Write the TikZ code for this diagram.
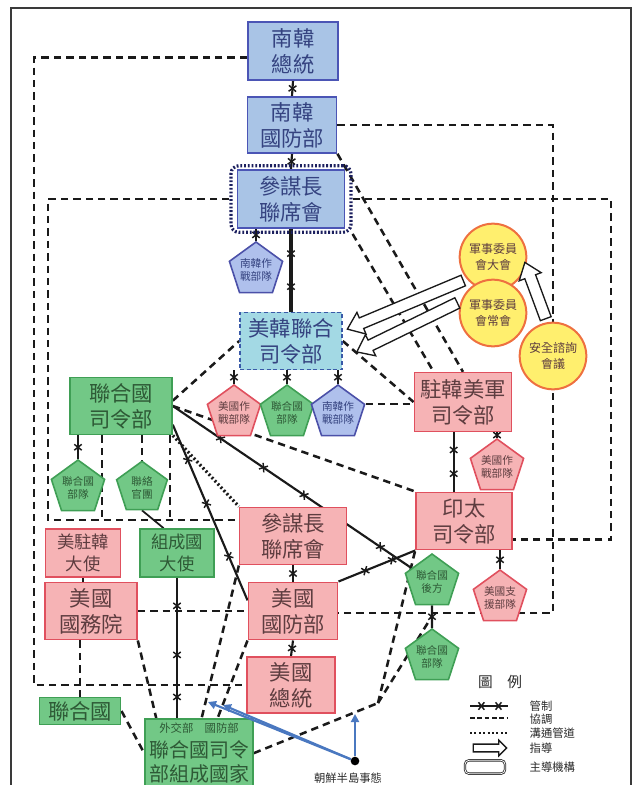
\documentclass[tikz,border=0pt]{standalone}
\usepackage{fontspec}
\setmainfont{Noto Sans CJK TC}
\usetikzlibrary{shapes.geometric,shapes.arrows,decorations.markings,calc,arrows.meta}
\pgfdeclarelayer{bg}
\pgfsetlayers{bg,main}
\definecolor{blueF}{HTML}{A9C4E6}
\definecolor{blueD}{HTML}{4B55B5}
\definecolor{cyanF}{HTML}{A3D9E4}
\definecolor{cyanD}{HTML}{3A5AA8}
\definecolor{greenF}{HTML}{72C886}
\definecolor{greenD}{HTML}{3F9F55}
\definecolor{pinkF}{HTML}{F6B3B5}
\definecolor{pinkD}{HTML}{E0505E}
\definecolor{yelF}{HTML}{FFEF6E}
\definecolor{yelD}{HTML}{EE7040}
\definecolor{penBF}{HTML}{AFC0EC}
\definecolor{penBD}{HTML}{4B50A8}
\definecolor{txtB}{HTML}{354380}
\definecolor{txtG}{HTML}{2E5A36}
\definecolor{txtP}{HTML}{5E3D40}
\definecolor{txtK}{HTML}{2A2A2A}
\definecolor{lineK}{HTML}{1A1A1A}
\definecolor{navy}{HTML}{1B1F5E}
\definecolor{arrB}{HTML}{4A78C0}
\definecolor{frameC}{HTML}{3A3A3A}
\newcommand{\xmk}{\draw[line width=1.1pt,solid] (-2.2pt,-2.8pt)--(2.2pt,2.8pt) (-2.2pt,2.8pt)--(2.2pt,-2.8pt);}
\begin{document}
\begin{tikzpicture}[x=0.75pt,y=-0.75pt,
  box/.style={rectangle, draw, line width=1.2pt, inner sep=1pt, align=center, font=\fontsize{16}{19.5}\selectfont},
  bbox/.style={box, fill=blueF, draw=blueD, text=txtB},
  gbox/.style={box, fill=greenF, draw=greenD, text=txtG},
  pbox/.style={box, fill=pinkF, draw=pinkD, text=txtP},
  pent/.style={regular polygon, regular polygon sides=5, minimum size=40pt, inner sep=0pt, line width=1.2pt, align=center, font=\fontsize{8}{9.5}\selectfont},
  bpent/.style={pent, fill=penBF, draw=penBD, text=txtB},
  gpent/.style={pent, fill=greenF, draw=greenD, text=txtG},
  ppent/.style={pent, fill=pinkF, draw=pinkD, text=txtP},
  circ/.style={circle, minimum size=50pt, inner sep=0pt, fill=yelF, draw=yelD, line width=1.5pt, align=center, text=txtP, font=\fontsize{9}{12.5}\selectfont},
  lead/.style={rectangle, draw=navy, line width=2.4pt, dash pattern=on 1.4pt off 1.4pt, rounded corners=6pt},
  coord/.style={draw=lineK, line width=1.9pt, dash pattern=on 5.5pt off 3.8pt},
  comm/.style={draw=lineK, line width=2.4pt, dash pattern=on 1.5pt off 1.8pt},
  ctl/.style={draw=lineK, line width=1.6pt},
  xm/.style={postaction={decorate, decoration={markings, mark=at position #1 with {\xmk}}}},
  guide/.style={single arrow, draw=lineK, fill=white, line width=1pt, inner sep=3.8pt, single arrow head extend=4.5pt, single arrow tip angle=75},
  barrow/.style={draw=arrB, line width=1.6pt, -{Triangle[length=6pt,width=6pt]}},
  lgtxt/.style={anchor=west, text=txtK, font=\fontsize{8.5}{10}\selectfont}
]
\useasboundingbox (0,0) rectangle (641,785);
\draw[line width=1.6pt, draw=frameC] (11,8) rectangle (631,800);

% ---- nodes ----
\node[bbox, minimum width=67.5pt, minimum height=43.5pt] (skP) at (293,51) {南韓\\總統};
\node[bbox, minimum width=67pt, minimum height=42pt] (skM) at (292,125) {南韓\\國防部};
\node[bbox, minimum width=80pt, minimum height=43.5pt] (skJ) at (291,199) {參謀長\\聯席會};
\node[lead, minimum width=90pt, minimum height=50pt] (skJo) at (291,199) {};
\node[bpent] (skPen) at (256,270) {南韓作\\戰部隊};
\node[box, fill=cyanF, draw=cyanD, dash pattern=on 3pt off 2pt, text=txtB, minimum width=76.5pt, minimum height=43pt] (cfc) at (291,341) {美韓聯合\\司令部};
\node[circ] (mcA) at (493,257) {軍事委員\\會大會};
\node[circ] (mcB) at (493,313) {軍事委員\\會常會};
\node[circ] (scm) at (553,356) {安全諮詢\\會議};
\node[gbox, minimum width=76.5pt, minimum height=43pt] (unc) at (121,406) {聯合國\\司令部};
\node[ppent] (p1) at (234,413) {美國作\\戰部隊};
\node[gpent] (p2) at (287,413) {聯合國\\部隊};
\node[bpent] (p3) at (338,413) {南韓作\\戰部隊};
\node[pbox, minimum width=73pt, minimum height=44pt] (usfk) at (463,402) {駐韓美軍\\司令部};
\node[ppent] (p4) at (497,467) {美國作\\戰部隊};
\node[gpent] (p5) at (78,488) {聯合國\\部隊};
\node[gpent] (p6) at (142,488) {聯絡\\官團};
\node[pbox, minimum width=72pt, minimum height=43pt] (indo) at (464,521) {印太\\司令部};
\node[pbox, minimum width=80pt, minimum height=43pt] (jcsU) at (293,536) {參謀長\\聯席會};
\node[pbox, minimum width=56pt, minimum height=36pt, font=\fontsize{13}{17}\selectfont] (amb) at (83,553) {美駐韓\\大使};
\node[gbox, minimum width=55.5pt, minimum height=36pt, font=\fontsize{13}{17}\selectfont] (memAmb) at (177,553) {組成國\\大使};
\node[pbox, minimum width=69pt, minimum height=43pt] (state) at (91,611) {美國\\國務院};
\node[pbox, minimum width=67pt, minimum height=43pt] (dod) at (293,611) {美國\\國防部};
\node[pbox, minimum width=66pt, minimum height=42pt] (pres) at (291,685) {美國\\總統};
\node[gbox, minimum width=61pt, minimum height=20pt] (un) at (80,711) {聯合國};
\node[gbox, minimum width=77pt, anchor=north, inner sep=3pt, font=\fontsize{15}{18.5}\selectfont] (mem) at (199,718) {{\fontsize{8.5}{10}\selectfont 外交部\quad 國防部}\\聯合國司令\\部組成國家};
\node[gpent] (p7) at (432,582) {聯合國\\後方};
\node[ppent] (p8) at (500,598) {美國支\\援部隊};
\node[gpent] (p9) at (432,657) {聯合國\\部隊};
\node[circle, fill=black, inner sep=0pt, minimum size=6.5pt] (dot) at (355,761) {};
\node[anchor=north, font=\fontsize{8.5}{9.5}\selectfont, text=txtK] (evt) at (348,768) {朝鮮半島事態};

% ---- helper coordinates ----
\coordinate (cL1) at (34,400);
\coordinate (cL2) at (48,400);
\coordinate (cR1) at (553,300);
\coordinate (cR2) at (611,300);
\coordinate (b1) at (102,520);
\coordinate (b2) at (170,520);
\coordinate (jn) at (378,703);
\coordinate (bt) at (355,714);
\coordinate (ba1) at (208,702);
\coordinate (ba2) at (223,705);

% ---- connectors behind nodes ----
\begin{pgfonlayer}{bg}
\draw[coord] ([yshift=-5pt]skP.west) -| (cL1) |- (pres.west);
\draw[coord] (skM.east) -| (cR1) |- ([yshift=-1.5pt]dod.east);
\draw[coord] (skJo.west) -| (cL2) |- ([yshift=12pt]jcsU.west);
\draw[coord] (skJo.east) -| (cR2) |- ([yshift=-14pt]indo.east);
\draw[coord] (skM.south east) -- (usfk.north);
\draw[coord] (skJo.south east) -- ([xshift=-22pt]usfk.north);
\draw[coord] (cfc.east) -- (usfk.west);
\draw[coord] ([yshift=4pt]unc.east) -- (cfc.west);
\draw[coord] (unc.east) -- (indo.north west);
\draw[coord] (p3.corner 5) -- (usfk.west |- p3.corner 5);
\draw[coord] (unc.south -| b1) -- (b1);
\draw[coord] (unc.south -| b2) -- (b2);
\draw[coord] (unc.south -| p6.north) -- (p6.north);
\draw[coord] (state.east) -- (dod.west);
\draw[coord] (un.north |- state.south) -- (un.north);
\draw[coord] (state.south east) -- ([xshift=9pt]mem.north west);
\draw[coord] (un.east) -- (mem.west);
\draw[coord] (jcsU.south west) -- ([xshift=2pt]mem.north);
\draw[coord] (dod.south west) -- ([xshift=14pt]mem.north);
\draw[coord] (mem.east) -- (jn);
\draw[coord] (jn) -- (indo.south west);
\draw[coord] (jn) -- ([yshift=-8pt]p7.south);
\draw[comm] (unc.south east) -- (jcsU.north west);
\draw[ctl, xm=0.5] (skP.south) -- (skM.north);
\draw[ctl, xm=0.5] (skM.south) -- (skJ.north);
\draw[ctl, xm=0.5] (skJ.south -| skPen.north) -- (skPen.north);
\draw[ctl, line width=2.4pt, xm=0.3, xm=0.7] (skJ.south) -- (cfc.north);
\draw[ctl, xm=0.5] (cfc.south -| p1.north) -- (p1.north);
\draw[ctl, xm=0.5] (cfc.south -| p2.north) -- (p2.north);
\draw[ctl, xm=0.5] (cfc.south -| p3.north) -- (p3.north);
\draw[ctl, xm=0.5] (unc.south -| p5.north) -- (p5.north);
\draw[ctl, xm=0.2, xm=0.38, xm=0.55, xm=0.87] (unc.east) -- (p7);
\draw[ctl, xm=0.2, xm=0.45, xm=0.75] ([yshift=-14pt]unc.east) -- ([yshift=8pt]dod.west);
\draw[ctl, xm=0.35, xm=0.7] (dod.north east) -- (indo.south west);
\draw[ctl, xm=0.5] (jcsU.south) -- (dod.north);
\draw[ctl, xm=0.5] (dod.south) -- (pres.north);
\draw[ctl, xm=0.3, xm=0.7] ([xshift=-7pt]usfk.south) -- ([xshift=-7pt]usfk.south |- indo.north);
\draw[ctl, xm=0.5] (usfk.south -| p4.north) -- (p4.north);
\draw[ctl, xm=0.5] (indo.south -| p8.north) -- (p8.north);
\draw[ctl, xm=0.5] (p7.south) -- (p9.north);
\draw[ctl, xm=0.2, xm=0.55, xm=0.85] (memAmb.south) -- (memAmb.south |- mem.north);
\draw[ctl, line width=1.3pt] (p6.south) -- ([xshift=-10pt]memAmb.north);
\draw[ctl, line width=1.2pt] (amb.south) -- (amb.south |- state.north);
\end{pgfonlayer}

% ---- guidance arrows ----
\path let \p1=(mcA.220), \p2=([shift={(6pt,10pt)}]cfc.east), \n2={veclen(\x2-\x1,\y2-\y1)} in
  (\p1) -- (\p2) node[midway, sloped, allow upside down, guide, minimum height=\n2] (g1) {};
\path let \p1=(mcB.160), \p2=([shift={(13pt,-7pt)}]cfc.east), \n2={veclen(\x2-\x1,\y2-\y1)} in
  (\p1) -- (\p2) node[midway, sloped, allow upside down, guide, minimum height=\n2] (g2) {};
\path let \p1=(scm.100), \p2=(mcA.-15), \n2={veclen(\x2-\x1,\y2-\y1)} in
  (\p1) -- (\p2) node[midway, sloped, allow upside down, guide, minimum height=\n2] (g3) {};

% ---- blue arrows ----
\draw[barrow] (dot) -- (bt);
\draw[barrow] (dot) -- (ba1);
\draw[barrow] (dot) -- (ba2);

% ---- legend ----
\node[text=txtK, font=\fontsize{11}{12}\selectfont] (lgT) at (500,682) {圖\quad 例};
\coordinate (l1a) at (470,706); \coordinate (l1b) at (508,706);
\coordinate (l2a) at (470,718); \coordinate (l2b) at (508,718);
\coordinate (l3a) at (470,733); \coordinate (l3b) at (508,733);
\coordinate (l4a) at (471,748); \coordinate (l4b) at (505,748);
\draw[ctl, line width=1.3pt, xm=0.3, xm=0.75] (l1a) -- (l1b);
\draw[draw=lineK, line width=1.3pt, dash pattern=on 3.5pt off 2pt] (l2a) -- (l2b);
\draw[comm, line width=2.2pt] (l3a) -- (l3b);
\path (l4a) -- (l4b) node[midway, sloped, allow upside down, single arrow, draw=lineK, fill=white, line width=1pt, inner sep=2.4pt, single arrow head extend=3pt, minimum height=25pt] (lg4) {};
\node[draw=txtK, double, rounded corners=3pt, minimum width=30pt, minimum height=10pt, line width=0.6pt] (lg5) at (485,767) {};
\node[lgtxt] (t1) at (525,706) {管制};
\node[lgtxt] (t2) at (525,719) {協調};
\node[lgtxt] (t3) at (525,733) {溝通管道};
\node[lgtxt] (t4) at (525,748) {指導};
\node[lgtxt] (t5) at (525,767) {主導機構};
\end{tikzpicture}
\end{document}
